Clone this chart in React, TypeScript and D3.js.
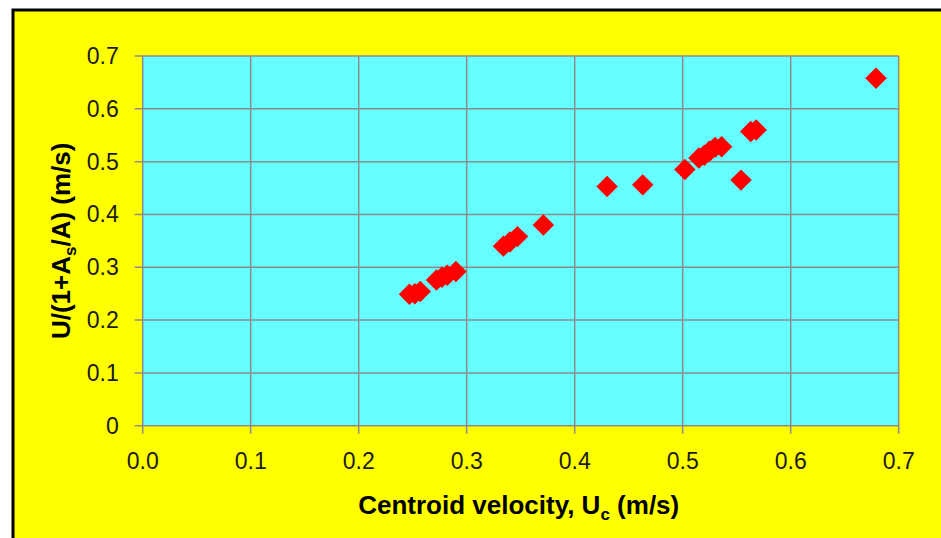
import React from "react";
import * as d3 from "d3";

// centroid velocity Uc (m/s) vs U/(1+As/A) (m/s)
const uc = [
  0.247, 0.252, 0.257, 0.272, 0.277, 0.282, 0.29,
  0.334, 0.34, 0.347, 0.371,
  0.43, 0.463, 0.502, 0.515, 0.52, 0.525, 0.53, 0.536,
  0.554, 0.563, 0.568, 0.679,
];
const uAdj = [
  0.249, 0.25, 0.254, 0.276, 0.281, 0.285, 0.292,
  0.34, 0.348, 0.358, 0.38,
  0.453, 0.456, 0.485, 0.507, 0.512, 0.52, 0.527, 0.528,
  0.465, 0.557, 0.56, 0.658,
];
const xTicks = [0, 0.1, 0.2, 0.3, 0.4, 0.5, 0.6, 0.7];
const yTicks = [0, 0.1, 0.2, 0.3, 0.4, 0.5, 0.6, 0.7];

function App() {
  const width = 941;
  const height = 538;
  const left = 142.7;
  const right = 898.7;
  const top = 56;
  const bottom = 425.7;

  const x = d3.scaleLinear().domain([0, 0.7]).range([left, right]);
  const y = d3.scaleLinear().domain([0, 0.7]).range([bottom, top]);
  const diamond = d3.symbol().type(d3.symbolSquare).size(230)();

  const font = "'Liberation Sans', Arial, sans-serif";
  const grid = "#8c8c8c";

  return (
    <svg
      width={width}
      height={height}
      style={{ position: "absolute", left: 0, top: 0 }}
    >
      <rect x={0} y={0} width={width} height={height} fill="#ffffff" />
      <rect x={13} y={10} width={width} height={height} fill="#ffff00" stroke="#000" strokeWidth={3} />
      <rect x={left} y={top} width={right - left} height={bottom - top} fill="#66ffff" />

      {yTicks.map((v) => (
        <g key={"y" + v}>
          <line x1={left - 8} x2={right} y1={y(v)} y2={y(v)} stroke={grid} strokeWidth={1.5} />
          <text
            x={left - 24}
            y={y(v) + 8}
            textAnchor="end"
            fontFamily={font}
            fontSize={23}
            fill="#1a1a1a"
          >
            {v === 0 ? "0" : d3.format(".1f")(v)}
          </text>
        </g>
      ))}
      {xTicks.map((v) => (
        <g key={"x" + v}>
          <line x1={x(v)} x2={x(v)} y1={top} y2={bottom + 8} stroke={grid} strokeWidth={1.5} />
          <text
            x={x(v)}
            y={469}
            textAnchor="middle"
            fontFamily={font}
            fontSize={23}
            fill="#1a1a1a"
          >
            {d3.format(".1f")(v)}
          </text>
        </g>
      ))}

      {uc.map((v, i) => (
        <path
          key={i}
          d={diamond}
          transform={`translate(${x(v)},${y(uAdj[i])}) rotate(45)`}
          fill="#ff0000"
        />
      ))}

      <text
        x={(left + right) / 2 - 2}
        y={514}
        textAnchor="middle"
        fontFamily={font}
        fontWeight="bold"
        fontSize={26}
        fill="#000"
      >
        Centroid velocity, U
        <tspan fontSize={17} dy={6}>c</tspan>
        <tspan dy={-6}> (m/s)</tspan>
      </text>
      <text
        transform={`translate(70,${(top + bottom) / 2}) rotate(-90)`}
        textAnchor="middle"
        fontFamily={font}
        fontWeight="bold"
        fontSize={26}
        fill="#000"
      >
        U/(1+A
        <tspan fontSize={17} dy={6}>s</tspan>
        <tspan dy={-6}>/A) (m/s)</tspan>
      </text>
    </svg>
  );
}

export default App;
